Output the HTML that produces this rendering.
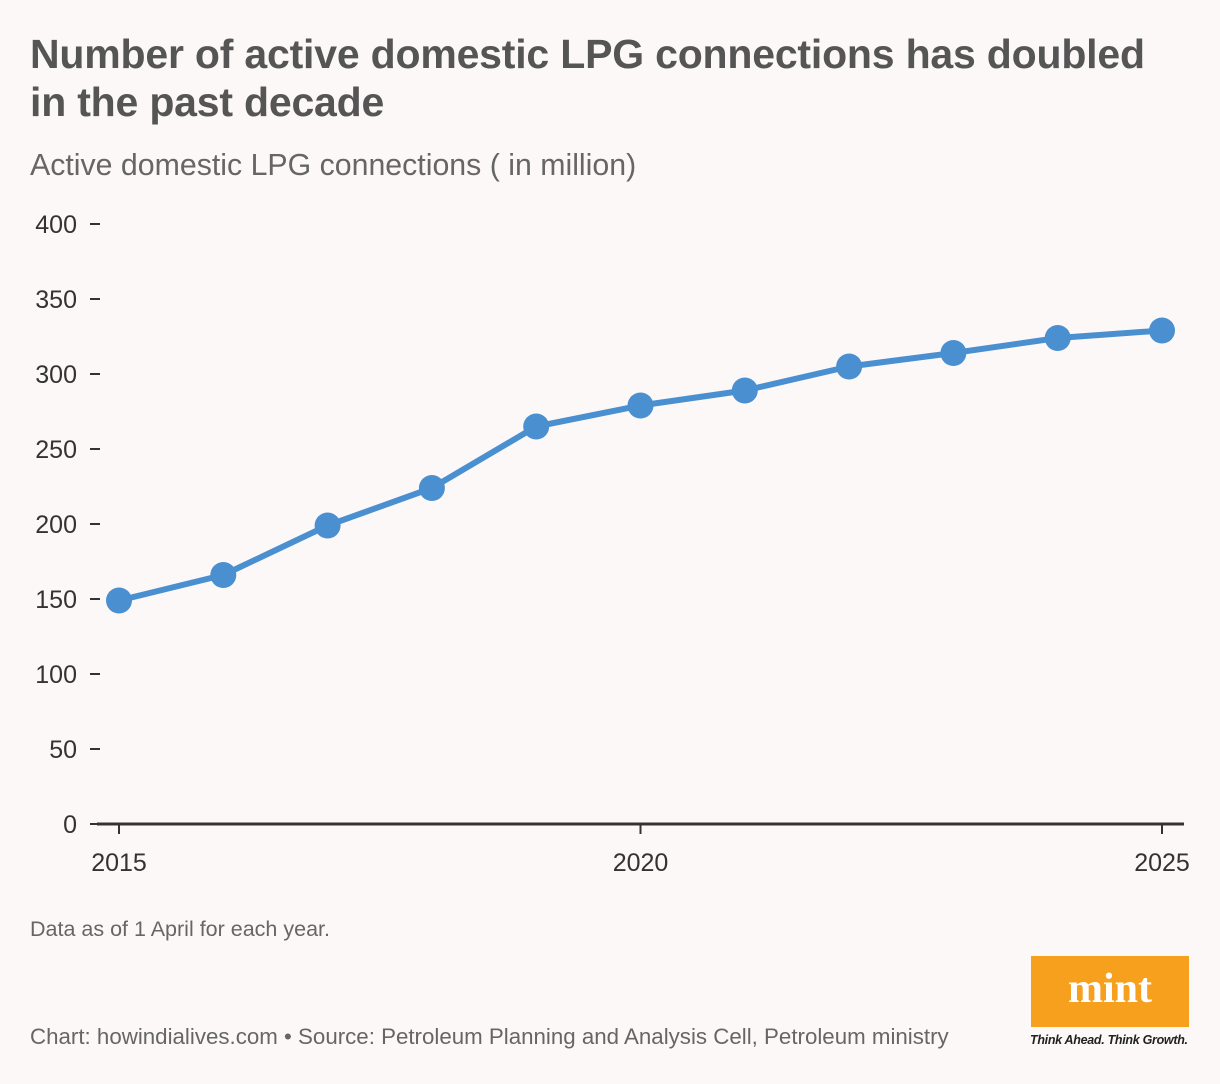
<!DOCTYPE html>
<html><head><meta charset="utf-8"><style>
body{margin:0;width:1220px;height:1084px;background:#fdf8f8;font-family:"Liberation Sans",sans-serif;overflow:hidden;position:relative}
.t{position:absolute;left:30px;top:30px;font-size:41px;font-weight:bold;color:#555;line-height:48px;letter-spacing:-0.2px;margin:0;white-space:nowrap}
.s{position:absolute;left:30px;top:149px;font-size:30.3px;color:#666}
.n{position:absolute;left:30px;top:917px;font-size:21.5px;color:#666}
.src{position:absolute;left:30px;top:1024px;font-size:22.3px;color:#666}
</style></head><body>
<h1 class="t">Number of active domestic LPG connections has doubled<br>in the past decade</h1>
<div class="s">Active domestic LPG connections ( in million)</div>
<svg id="c" width="1220" height="1084" style="position:absolute;left:0;top:0"></svg>
<div class="n">Data as of 1 April for each year.</div>
<div class="src">Chart: howindialives.com • Source: Petroleum Planning and Analysis Cell, Petroleum ministry</div>
<div style="position:absolute;left:1031px;top:956px;width:158px;height:71px;background:#f7a01e;color:#fff;font-family:'Liberation Serif',serif;font-weight:bold;font-size:42px;text-align:center;line-height:66px">mint</div>
<div style="position:absolute;left:1030px;top:1033px;font-size:12.5px;font-style:italic;font-weight:bold;color:#222;letter-spacing:-0.3px">Think Ahead. Think Growth.</div>
<script>
const years=[2015,2016,2017,2018,2019,2020,2021,2022,2023,2024,2025];
const values=[149,166,199,224,265,279,289,305,314,324,329];
const yTicks=[0,50,100,150,200,250,300,350,400];
const xTicks=[2015,2020,2025];
const svg=document.getElementById('c');const NS='http://www.w3.org/2000/svg';
const x=v=>119+(v-2015)*(1162-119)/10;
const y=v=>824-v*1.5;
function mk(t,a){const e=document.createElementNS(NS,t);for(const k in a)e.setAttribute(k,a[k]);svg.appendChild(e);return e;}
yTicks.forEach(v=>{
 const l=mk('line',{x1:90,x2:100,y1:y(v),y2:y(v),stroke:'#333','stroke-width':2});
 
 
 const t=mk('text',{x:77,y:y(v)+9,'text-anchor':'end','font-size':25,fill:'#333','font-family':'Liberation Sans, sans-serif'});
 t.textContent=v;
 
 
});
const ax=mk('line',{x1:97,x2:1184,y1:824,y2:824,stroke:'#333','stroke-width':3});


xTicks.forEach(v=>{
 const l=mk('line',{x1:x(v),x2:x(v),y1:824,y2:834,stroke:'#333','stroke-width':2});
 
 
 const t=mk('text',{x:x(v),y:871,'text-anchor':'middle','font-size':25,fill:'#333','font-family':'Liberation Sans, sans-serif'});
 t.textContent=v;
 
 
});
const p=mk('polyline',{points:years.map((yr,i)=>x(yr)+','+y(values[i])).join(' '),fill:'none',stroke:'#4a90d0','stroke-width':6,'stroke-linejoin':'round'});


years.forEach((yr,i)=>{
 const c=mk('circle',{cx:x(yr),cy:y(values[i]),r:13,fill:'#4a90d0'});
 
 
});
</script>
</body></html>
